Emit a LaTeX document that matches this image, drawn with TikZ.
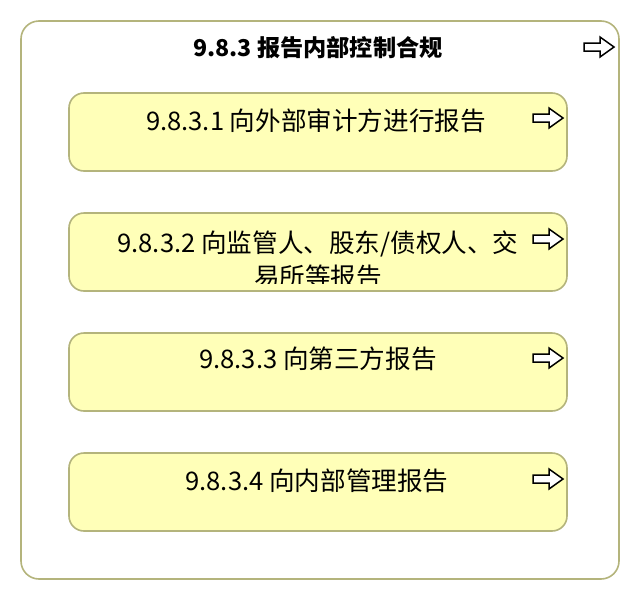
\documentclass[tikz,border=0pt]{standalone}
\usepackage{fontspec}
\setmainfont{Noto Sans CJK SC}
\definecolor{boxline}{HTML}{B4B47C}
\definecolor{boxfill}{HTML}{FFFFB8}
\tikzset{
  outerbox/.style={draw=boxline, line width=1.6pt, fill=white, rounded corners=18pt},
  innerbox/.style={draw=boxline, line width=1.6pt, fill=boxfill, rounded corners=15pt},
  lbl/.style={inner sep=0pt, font=\fontsize{25.6}{34}\selectfont, align=center},
  ttl/.style={inner sep=0pt, font=\fontsize{23.2}{26}\selectfont\bfseries},
  arr/.style={draw=black, line width=1.5pt, fill=white, line join=miter}
}
\newcommand{\arrowicon}[2]{%
  \draw[arr] (#1,#2-4) -- (#1+16,#2-4) -- (#1+16,#2-10) -- (#1+30,#2) -- (#1+16,#2+10) -- (#1+16,#2+4) -- (#1,#2+4) -- cycle;}
\begin{document}
\begin{tikzpicture}[x=1pt,y=-1pt]
\useasboundingbox (0,0) rectangle (640,600);
\draw[outerbox] (21,21) rectangle (619,579);
\node[ttl] (t) at (318,48) {9.8.3 报告内部控制合规};
\arrowicon{584}{47}

\draw[innerbox] (69,93) rectangle (567,171);
\node[lbl] (a) at (316,121) {9.8.3.1 向外部审计方进行报告};
\arrowicon{533}{118}

\draw[innerbox] (69,213) rectangle (567,291);
\begin{scope}
\clip (69,213) rectangle (567,283);
\node[lbl] (b) at (318,260) {9.8.3.2 向监管人、股东/债权人、交\\易所等报告};
\end{scope}
\arrowicon{533}{239}

\draw[innerbox] (69,333) rectangle (567,411);
\node[lbl] (c) at (318,359) {9.8.3.3 向第三方报告};
\arrowicon{533}{358}

\draw[innerbox] (69,453) rectangle (567,531);
\node[lbl] (d) at (317,481) {9.8.3.4 向内部管理报告};
\arrowicon{533}{479}
\end{tikzpicture}
\end{document}
